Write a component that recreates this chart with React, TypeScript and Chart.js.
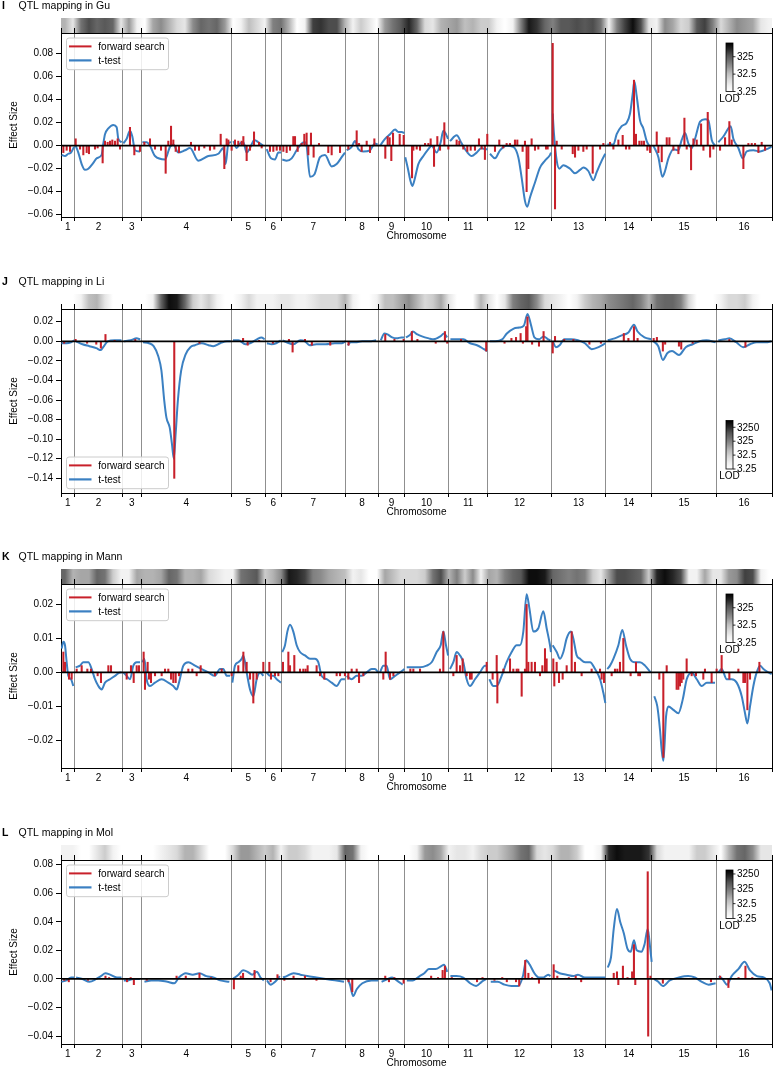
import React, { useEffect, useRef } from 'react';
import { Chart, registerables } from 'chart.js';

Chart.register(...registerables);

const FONT = '"Liberation Sans", Arial, Helvetica, sans-serif';
Chart.defaults.font.family = FONT;
Chart.defaults.color = '#000';

const RED = '#c8202a';
const BLUE = '#3b80c2';
const GRID_GRAY = '#8f8f8f';

// ---------- genome layout (kb) ----------
const CHR_NAMES = ['1', '2', '3', '4', '5', '6', '7', '8', '9', '10', '11', '12', '13', '14', '15', '16'];
const CHR_LEN_KB = [230, 813, 317, 1532, 577, 270, 1091, 563, 440, 746, 667, 1078, 924, 784, 1091, 948];

// ---------- LOD strip (normalised log-LOD darkness per cell) ----------
const STRIP_STEP_KB = 135.8;
const STRIP_I = [0.3,0.1,0.55,0.7,0.6,0.65,0.6,0.1,0.4,0.05,0,0.35,0.45,0.3,0.15,0.1,0.45,0.6,0.55,0.6,0.4,0,0.05,0.25,0.15,0.05,0.5,0.55,0.3,0,0.05,0.75,0.8,0.7,0.7,0.3,0.05,0.2,0.1,0,0.4,0.55,0.65,0.85,0.6,0.15,0.1,0.3,0.35,0.4,0.25,0.3,0.2,0.2,0.05,0,0.05,0.5,0.9,0.8,0.6,0.5,0.65,0.65,0.7,0.65,0.7,0.55,0.05,0.5,0.75,0.95,0.7,0.1,0.05,0.45,0.35,0.15,0.2,0.65,0.75,0.5,0.15,0.3,0.45,0.4,0.35,0.1,0.05];
const STRIP_J = [0,0,0.05,0.25,0.3,0.1,0,0,0,0,0,0.05,0.6,0.95,0.9,0.6,0.2,0.1,0.2,0.05,0,0,0.05,0.15,0.05,0.05,0.05,0.1,0.1,0.05,0.05,0.1,0.15,0.15,0.15,0.3,0.05,0,0,0.05,0.25,0.25,0.35,0.45,0.3,0.15,0.2,0.35,0.1,0,0,0,0.3,0.1,0,0.1,0.5,0.6,0.65,0.45,0.15,0.1,0.05,0,0.05,0.2,0.3,0.35,0.45,0.5,0.55,0.6,0.5,0.3,0.55,0.6,0.6,0.5,0.15,0,0,0,0.05,0.15,0.15,0.2,0.05,0,0];
const STRIP_K = [0.6,0.3,0.35,0.35,0.6,0.55,0.2,0.05,0.05,0.35,0.3,0.3,0.35,0.6,0.55,0.3,0.3,0.35,0.15,0.1,0.05,0.05,0.55,0.6,0.65,0.2,0.3,0.45,0.9,0.85,0.75,0.5,0.45,0.35,0.3,0.25,0.05,0.1,0,0,0.35,0.25,0.15,0.15,0.15,0.2,0.55,0.7,0.3,0.5,0.2,0.45,0.05,0.35,0.3,0.5,0.6,0.65,0.95,0.95,0.9,0.6,0.55,0.5,0.55,0.5,0.2,0.1,0.4,0.7,0.7,0.65,0.6,0.2,0.85,0.95,0.85,0.7,0.05,0.05,0.35,0.1,0.1,0.4,0.45,0.75,0.7,0.05,0];
const STRIP_L = [0.05,0.05,0,0,0.1,0.2,0.05,0,0,0,0,0,0.05,0.1,0.15,0.3,0.3,0.15,0,0,0,0.15,0.4,0.4,0.3,0.2,0.3,0.05,0.2,0.2,0.15,0.05,0.05,0.05,0.1,0.6,0.55,0.05,0,0,0,0,0,0,0.05,0.4,0.45,0.35,0.05,0.1,0.1,0.05,0.15,0.2,0.2,0.3,0.4,0.55,0.6,0.15,0.1,0.15,0.3,0.3,0.2,0,0,0.05,0.85,0.95,0.9,0.9,0.9,0.8,0.15,0.05,0.05,0.05,0.05,0.2,0.2,0.1,0,0.3,0.55,0.6,0.45,0.1,0.1];

// ---------- colour bar ----------
const CB_MIN = 3.25;
const CB_MAX_I = 2000;
const CB_MAX_J = 10000;
const CB_MAX_K = 2000;
const CB_MAX_L = 6000;
const CB_TICKS_3 = [3.25, 32.5, 325];
const CB_TICKS_4 = [3.25, 32.5, 325, 3250];
const CB_LABELS: Record<number, string> = { 3.25: '3.25', 32.5: '32.5', 325: '325', 3250: '3250' };

// ---------- y axes ----------
const Y_RANGE_I = [-0.062, 0.098];
const Y_RANGE_J = [-0.155, 0.033];
const Y_RANGE_K = [-0.0281, 0.026];
const Y_RANGE_L = [-0.0455, 0.0832];
const Y_TICKS_I = [-0.06, -0.04, -0.02, 0, 0.02, 0.04, 0.06, 0.08];
const Y_TICKS_J = [-0.14, -0.12, -0.1, -0.08, -0.06, -0.04, -0.02, 0, 0.02];
const Y_TICKS_K = [-0.02, -0.01, 0, 0.01, 0.02];
const Y_TICKS_L = [-0.04, -0.02, 0, 0.02, 0.04, 0.06, 0.08];

// ---------- Panel I (Gu) ----------
const T_I_X = [11,68,124,170,222, 249,294,351,407,464,549,605,690,719,747,804,888,945,973,1030, 1058,1115,1171,1211,1256,1341, 1381,1454,1511,1596,1766,1850,1907,1992,2105,2190,2331,2501,2671,2756,2795,2841,2886, 2926,2982,3039,3096,3152,3209,3282,3350,3435, 3492,3565,3633,3690,3735, 3757,3831,3916,4001,4086,4142,4170,4227,4301,4397,4482,4595,4680,4765,4821, 4850,4935,4991,5048,5133,5246,5330,5376, 5416,5501,5586,5671,5728,5784,5830, 5845,5890,5930,5965,6000,6067,6152,6237,6293,6378,6446,6491,6536,6570, 6604,6717,6802,6887,6972,7056,7141,7197,7242, 7283,7368,7453,7566,7679,7764,7821,7877,7917,7962,8047,8132,8217,8302,8320, 8348,8370,8416,8461,8529,8642,8727,8812,8868,8953,9038,9095,9180,9240, 9276,9378,9434,9519,9604,9661,9706,9734,9774,9830,9887,9944,10012, 10057,10142,10210,10255,10312,10397,10482,10538,10595,10651,10708,10765,10850,10935,10991,11048,11104, 11160,11245,11330,11370,11415,11500,11574,11642,11755,11868,11981,12063];
const T_I_Y = [-0.008,-0.009,-0.007,-0.006,-0.001, 0,-0.006,-0.016,-0.021,-0.02,-0.015,-0.011,-0.008,0.002,0.01,0.015,0.018,0.016,0.006,0.003, 0.002,0.006,0.013,0.008,-0.004,-0.005, 0.003,0.003,0,-0.009,-0.012,-0.001,0.001,-0.006,-0.004,-0.002,-0.013,-0.009,-0.007,-0.002,-0.016,0.002,0.003, 0.004,-0.002,0.002,0.003,-0.006,-0.002,0.005,0.003,0, -0.003,-0.011,-0.012,-0.006,-0.006, -0.012,-0.013,-0.011,-0.004,0.002,0.003,0,-0.027,-0.025,-0.01,-0.008,-0.018,-0.016,-0.01,-0.006, -0.004,-0.001,0.004,-0.003,-0.005,-0.004,0.002,0.001, 0,0.006,0.01,0.014,0.012,0.012,0.011, -0.01,-0.02,-0.03,-0.035,-0.03,-0.016,-0.009,-0.003,0,-0.006,0.003,0.013,0.01,0.006, 0.004,0.009,0.002,-0.005,-0.009,-0.006,-0.002,-0.003,-0.003, -0.007,-0.011,-0.004,0,-0.001,-0.01,-0.028,-0.048,-0.053,-0.045,-0.032,-0.019,-0.013,-0.008,-0.006, 0.028,0.01,-0.013,-0.02,-0.017,-0.02,-0.024,-0.021,-0.019,-0.022,-0.03,-0.023,-0.013,-0.007, 0.001,0.001,0.01,0.017,0.02,0.028,0.045,0.056,0.043,0.022,0.015,0.004,-0.002, 0,-0.01,-0.027,-0.022,-0.011,-0.003,-0.004,0.005,0.011,0.002,-0.002,0.006,0.021,0.023,0.022,0.005,0, 0.003,0.008,0.015,0.017,0.006,-0.002,-0.011,-0.005,-0.004,-0.005,-0.003,-0.001];
const FS_I_X = [40,96,153,249,323,379,436,475,577,622,707,747,792,832,871,917,962,1002,1171,1245,1341,1415,1511,1596,1698,1777,1822,1868,1907,1947,2003,2207,2275,2343,2433,2529,2603,2711,2773,2812,2841,2897,2954,3010,3067,3096,3152,3209,3277,3362,3407,3548,3605,3662,3718,3775,3831,3888,3944,3973,4018,4086,4131,4170,4199,4244,4289,4380,4538,4595,4737,4878,5020,5060,5105,5190,5246,5320,5506,5546,5580,5608,5637,5750,5818,5960,5982,6039,6095,6180,6237,6276,6333,6389,6435,6508,6576,6717,6762,6830,6898,6955,7028,7096,7141,7197,7237,7368,7441,7509,7566,7622,7707,7747,7837,7877,7905,7934,7990,8047,8104,8234,8262,8348,8387,8416,8501,8688,8727,8784,8868,8925,9027,9152,9208,9321,9378,9463,9536,9592,9649,9728,9762,9819,9858,9898,9955,10001,10114,10142,10199,10284,10329,10397,10482,10584,10623,10697,10737,10793,10867,10907,10980,11020,11076,11189,11274,11347,11387,11585,11670,11727,11783,11840,11896,11953];
const FS_I_Y = [-0.006,-0.004,-0.005,0.006,-0.003,-0.008,-0.006,-0.007,-0.003,-0.002,-0.015,0.004,0.003,0.004,0.005,0.004,0.006,-0.003,0.016,-0.008,-0.005,0.003,0.006,-0.003,-0.004,-0.024,0.004,0.017,0.005,-0.005,-0.006,0.003,-0.004,-0.004,-0.002,-0.004,-0.003,0.01,-0.02,0.006,0.005,-0.004,0.005,0.004,0.004,0.008,-0.013,-0.004,0.012,0.003,-0.002,-0.005,-0.005,-0.004,-0.004,-0.005,-0.006,-0.004,0.008,0.008,-0.005,0.002,0.01,0.011,-0.008,0.011,-0.01,0.002,-0.006,-0.008,-0.006,-0.003,0.013,0.002,-0.005,0.004,-0.006,0.006,-0.011,0.008,0.007,-0.013,0.011,0.01,0.009,-0.028,-0.004,-0.003,-0.004,0.002,0.002,0.006,-0.018,0.008,-0.004,0.02,-0.003,0.005,0.004,-0.003,-0.005,-0.004,-0.004,0.006,-0.003,-0.012,0.01,-0.005,0.005,-0.002,0.002,0.002,0.005,0.005,-0.005,0.004,-0.04,-0.02,0.006,-0.004,-0.003,-0.003,-0.003,0.089,-0.055,0.004,-0.003,-0.007,-0.01,-0.004,-0.005,-0.003,-0.024,-0.003,0.002,0.003,-0.003,0.005,0.009,-0.003,-0.003,0.057,0.01,0.004,0.004,0.004,-0.004,-0.006,0.012,-0.006,-0.014,0.007,0.007,-0.004,-0.007,0.024,-0.003,-0.021,0.006,0.005,0.019,-0.004,0.029,-0.01,-0.003,-0.004,0.007,0.021,0.005,-0.02,0.002,0.002,0.002,-0.006,0.003,-0.004];

// ---------- Panel J (Li) ----------
const T_J_X = [7,93,171,225, 256,365,482,599,677,716,794,910,1027, 1066,1183,1284,1345, 1393,1495,1573,1650,1705,1752,1790,1845,1884,1915,1946,1985,2040,2118,2196,2274,2390,2507,2585,2702,2819,2881, 2920,3013,3130,3208,3325,3403,3457, 3496,3574,3652,3730, 3761,3831,3948,4064,4142,4220,4337,4493,4649,4766,4828, 4867,4921,4999,5116,5233,5350, 5428,5490,5544,5622,5700,5778,5825, 5856,5934,5973,6051,6129,6245,6323,6440,6502,6557, 6611,6713,6830,6946,7063,7180,7234, 7281,7374,7491,7569,7686,7779,7858,7920,7982,8037,8115,8193,8271,8309, 8348,8403,8465,8543,8660,8777,8894,9010,9127,9244, 9283,9400,9517,9633,9727,9789,9906,10023, 10062,10140,10218,10296,10374,10491,10607,10724,10840,10957,11113, 11160,11269,11347,11464,11581,11698,11814,11970,12060];
const T_J_Y = [-0.002,-0.002,-0.001,0.001, 0,-0.003,-0.005,-0.007,-0.009,-0.006,0,0.001,0.001, 0,0.001,0.003,0.002, -0.001,-0.002,-0.005,-0.015,-0.03,-0.06,-0.078,-0.088,-0.105,-0.12,-0.095,-0.06,-0.03,-0.013,-0.006,-0.004,-0.002,-0.004,-0.005,-0.002,0,0, 0.001,0.001,-0.003,-0.002,0.002,0.004,0.002, -0.002,-0.003,-0.002,0.001, 0.001,-0.001,-0.003,0.001,0,-0.004,-0.003,-0.003,-0.002,-0.002,0, -0.004,-0.001,-0.001,0,0,0.001, 0.001,0.008,0.007,0.004,0.003,0.004,0.004, 0.004,0.007,0.01,0.007,0.005,0.003,0.002,0.005,0.008,0.004, 0.002,0.002,0.002,-0.002,-0.004,-0.008,-0.01, 0,0,0.002,0.008,0.013,0.014,0.016,0.028,0.016,0.004,0.002,0.005,0.002,0.001, 0,-0.006,-0.004,0.002,0.002,0.001,-0.002,-0.008,-0.006,-0.002, 0.001,0.003,0.006,0.009,0.017,0.01,0.004,0.002, 0,-0.005,-0.019,-0.012,-0.01,-0.014,-0.006,-0.003,0,0.001,-0.001, 0.001,0.002,0.003,-0.001,-0.006,-0.003,-0.001,-0.001,0];
const FS_J_X = [54,248,443,599,677,755,910,1261,1923,2351,3091,3169,3364,3597,3870,3932,4142,4259,4571,4882,5505,5661,5817,5957,6051,6362,6518,6557,6791,7219,7530,7647,7725,7803,7842,7897,7920,7998,8115,8193,8348,8387,8543,8699,8971,9166,9555,9633,9727,9789,10062,10117,10218,10257,10491,10530,10724,11347,11620];
const FS_J_Y = [-0.002,0.002,-0.002,-0.003,-0.007,0.007,0.001,0.002,-0.14,-0.002,0.003,-0.004,0.001,-0.002,0.002,-0.011,0.002,-0.004,-0.004,-0.004,0.007,0.002,0.002,0.01,0.002,-0.002,0.01,-0.002,0.002,-0.01,-0.002,0.003,0.004,0.008,-0.002,0.015,0.025,-0.003,-0.005,0.01,-0.012,0.005,0.002,0.002,-0.003,-0.002,0.008,0.003,0.015,0.003,0.003,0.004,-0.01,-0.003,-0.005,-0.008,-0.002,0.002,-0.006];

// ---------- Panel K (Mann) ----------
const T_K_X = [11,40,68,96,124,170,209, 249,323,379,464,521,577,634,690,747,832,917,1002,1030, 1058,1115,1171,1228,1285,1341, 1381,1415,1454,1511,1596,1709,1822,1907,1964,2003,2077,2162,2275,2388,2501,2614,2699,2756,2812,2869, 2909,2954,3010,3067,3096,3152,3209,3265,3322,3379,3435, 3492,3548,3605,3662,3735, 3757,3803,3843,3888,3944,4001,4058,4142,4227,4312,4368,4425,4510,4595,4680,4765,4821, 4850,4935,5020,5105,5190,5274,5330,5387, 5416,5472,5529,5586,5671,5756,5830, 5869,5954,6095,6208,6293,6378,6446,6491,6536,6572, 6604,6661,6717,6774,6830,6887,6944,7028,7113,7197,7242, 7272,7340,7397,7481,7566,7651,7736,7792,7849,7905,7951,8019,8104,8189,8245,8302,8318, 8348,8416,8472,8529,8585,8658,8698,8755,8812,8897,8982,9067,9152,9208,9242, 9276,9321,9378,9463,9530,9592,9661,9745,9830,9915,10012, 10073,10124,10170,10199,10227,10272,10312,10397,10482,10555,10623,10708,10793,10878,10963,11048,11104, 11160,11217,11302,11387,11472,11557,11613,11653,11698,11755,11811,11868,11925,12010,12065];
const T_K_Y = [0.007,0.009,0.008,0.003,-0.001,-0.002,-0.004, 0.0015,0.002,0.003,0.003,0.001,-0.002,-0.004,-0.005,-0.003,-0.002,-0.001,0,0, 0,-0.001,-0.002,0.002,0.003,0.003, 0.003,0.004,-0.002,-0.004,-0.003,-0.002,-0.003,-0.004,-0.005,-0.003,0.002,0.003,0.002,0.001,0,-0.001,0.001,0.001,-0.001,-0.001, -0.003,0.002,0.003,0.004,0.005,0,-0.005,-0.007,-0.002,0,-0.001, 0,-0.001,-0.001,-0.002,-0.003, 0.006,0.008,0.012,0.014,0.012,0.008,0.006,0.005,0.004,0.004,0.003,-0.001,-0.002,-0.003,-0.004,-0.002,-0.002, -0.001,-0.002,-0.001,-0.001,0,0.001,0.001,0, 0,0.002,0.002,-0.002,-0.001,0,0.001, 0.0015,0.0015,0.0015,0.002,0.003,0.006,0.008,0.012,0.008,0.005, 0.001,0.003,0.006,0.005,0.003,-0.002,-0.004,-0.002,0,0.002,0.002, -0.002,-0.004,-0.004,-0.001,0.003,0.006,0.008,0.008,0.012,0.023,0.019,0.012,0.013,0.018,0.013,0.008,0.006, 0.008,0.006,0.004,0.006,0.01,0.012,0.01,0.005,0.004,0.003,0.003,0.001,-0.002,-0.006,-0.009, 0.001,0.002,0.004,0.008,0.0125,0.008,0.004,0.003,0.003,0.002,0, -0.007,-0.01,-0.017,-0.023,-0.026,-0.013,-0.01,-0.011,-0.012,-0.008,-0.002,0,-0.002,-0.004,-0.003,-0.003,-0.003, 0,0.001,-0.002,-0.002,-0.003,-0.007,-0.012,-0.015,-0.01,-0.004,0,0.002,0.001,0,-0.0005];
const FS_K_X = [40,68,136,181,266,351,447,509,622,679,804,849,1115,1188,1234,1285,1324,1403,1426,1471,1494,1528,1596,1709,1766,1822,1868,1907,1947,2003,2162,2230,2303,2371,2614,2728,2897,3010,3096,3152,3209,3265,3322,3435,3537,3565,3633,3690,3769,3860,3888,3961,4058,4114,4153,4187,4340,4397,4470,4680,4737,4821,4878,4935,5020,5060,5133,5472,5512,5586,5643,5931,5982,6095,6434,6491,6661,6717,6774,6819,6887,6944,6972,7227,7328,7397,7408,7510,7623,7679,7736,7764,7821,7877,7905,7934,7990,8047,8132,8172,8217,8245,8358,8375,8415,8455,8517,8585,8670,8726,8839,9009,9151,9179,9219,9349,9405,9445,9490,9547,9671,9762,9801,9830,10158,10226,10283,10452,10481,10509,10537,10565,10622,10707,10780,10905,10933,11046,11131,11216,11347,11500,11585,11613,11653,11698,11857];
const FS_K_Y = [0.006,0.003,-0.002,-0.002,0.001,0.002,0.001,0.001,-0.001,-0.003,0.002,0.002,-0.002,0.002,-0.003,0.002,0.002,0.006,-0.005,0.003,-0.002,-0.003,-0.001,-0.001,0.001,0.001,-0.002,-0.003,-0.003,-0.001,0.001,0.001,-0.001,0.002,-0.001,0.001,-0.001,0.002,0.006,0.003,-0.002,-0.009,-0.002,0.003,0.003,-0.002,-0.001,-0.001,0.003,0.006,0.002,0.005,0.001,0.001,0.001,0.002,0.002,-0.001,-0.002,-0.001,-0.001,-0.001,-0.002,0.001,0.001,-0.003,-0.001,-0.002,0.006,-0.002,-0.001,0.001,0.001,0.001,0.001,0.012,-0.001,0.005,0.002,0.004,-0.001,-0.002,-0.002,0.003,-0.002,0.005,-0.009,0.001,0.004,0.001,0.001,0.001,-0.007,0.001,0.02,0.003,0.003,0.003,-0.001,0.002,0.007,0.004,0.004,-0.004,0.003,-0.003,-0.002,0.002,0.012,0.003,-0.001,0.001,0.001,-0.002,-0.003,-0.001,0.001,0.001,0.003,0.01,-0.001,0.003,-0.001,-0.001,-0.002,-0.025,0.002,-0.005,-0.005,-0.004,-0.003,-0.002,0.004,-0.001,-0.001,-0.002,0.001,-0.003,0.001,0.005,-0.002,0.001,-0.003,-0.003,-0.011,-0.002,0.003];

// ---------- Panel L (Mol) ----------
const T_L_X = [7,93,171,225, 256,365,482,599,677,755,833,950,1027, 1066,1144,1222,1339, 1417,1533,1650,1806,1923,2001,2118,2235,2351,2468,2585,2702,2858, 2920,3013,3091,3169,3247,3325,3387,3442, 3496,3558,3636,3714, 3769,3831,3948,4064,4181,4337,4493,4649,4805, 4867,4906,4960,5023,5116,5272,5389, 5443,5544,5622,5700,5801, 5871,5973,6090,6168,6245,6362,6456,6502,6557, 6611,6713,6830,6946,7047,7141,7219, 7296,7413,7530,7647,7764,7842,7897,7958,8037,8115,8193,8271,8309, 8372,8465,8582,8699,8777,8894,9010,9127,9244, 9283,9337,9384,9439,9493,9555,9618,9672,9727,9774,9852,9906,9961,10007,10028, 10069,10140,10218,10335,10491,10647,10763,10880,10996,11113, 11167,11230,11308,11386,11503,11604,11698,11814,11931,12032,12065];
const T_L_Y = [-0.002,-0.001,0.001,0.001, 0.001,0,-0.002,0,0.002,0.004,0.003,0.001,0.001, -0.001,-0.001,0,0, -0.002,-0.001,-0.001,-0.002,-0.003,0.001,0.004,0.003,0.004,0.002,0.001,-0.001,-0.002, 0,0.003,0.006,0.005,0.003,0.005,0.001,-0.001, -0.001,-0.004,-0.002,0.002, 0.001,0.002,0.004,0.003,0.002,0.001,0,-0.001,-0.002, 0,-0.004,-0.012,-0.007,-0.003,-0.001,-0.001, -0.002,0,0.001,-0.001,-0.004, -0.001,-0.001,0.002,0.004,0.007,0.007,0.009,0.01,0.005, 0.002,0.002,0.001,-0.003,-0.005,-0.002,0, -0.002,-0.002,-0.004,-0.005,-0.005,0.002,0.013,0.01,0.004,0.001,0.001,0.003,0.002, 0.006,0.004,0.003,0.002,0.003,0.001,0.001,0.001,0.001, 0.008,0.015,0.035,0.049,0.04,0.032,0.021,0.019,0.027,0.02,0.019,0.024,0.035,0.02,0.012, 0,-0.002,-0.005,-0.001,0.001,0.002,0.001,-0.002,-0.004,-0.003, 0.002,0,-0.004,0.002,0.007,0.012,0.006,0.002,0.001,-0.003,-0.008];
const FS_L_X = [54,132,459,755,817,1121,1183,1237,1456,1962,2118,2351,2546,2935,3052,3091,3286,3558,3675,3792,3948,4142,4337,4882,4945,5505,5568,5661,5817,6284,6401,6479,6518,6635,7063,7156,7359,7491,7569,7725,7779,7881,7935,7998,8115,8364,8426,8621,8738,8831,9384,9439,9462,9540,9618,9696,9727,9750,9961,9969,10007,10218,11035,11191,11331,11503,11620,11736];
const FS_L_Y = [-0.001,-0.002,-0.001,0.002,0.001,-0.002,0.001,-0.004,-0.001,0.002,0.002,0.004,0.001,-0.007,0.002,0.004,0.006,-0.002,0.003,-0.001,0.002,0.002,-0.001,-0.002,-0.009,0.002,-0.002,0.001,-0.003,0.002,0.001,0.006,0.009,0.001,-0.002,0.001,-0.001,0.001,-0.002,-0.002,-0.005,0.013,0.004,0.001,-0.003,0.01,0.002,0.001,0.002,-0.002,0.004,0.005,-0.004,0.009,0.001,0.005,0.024,-0.004,0.075,-0.04,0.002,-0.003,-0.002,0.002,-0.006,0.001,0.009,0.001];

// ---------- derived genome helpers ----------
const CHR_START: number[] = [];
let acc = 0;
for (const l of CHR_LEN_KB) { CHR_START.push(acc); acc += l; }
const GENOME = acc;
const BOUNDS = [...CHR_START, GENOME];
const MIDS = CHR_START.map((s, i) => s + CHR_LEN_KB[i] / 2);
const BOUND_SET = new Set(BOUNDS);
const X_TICKS = [...BOUNDS, ...MIDS].sort((a, b) => a - b);

function chrOf(kb: number) {
  let i = 0;
  while (i < CHR_START.length - 1 && kb >= CHR_START[i + 1]) i++;
  return i;
}
function lineData(xs: number[], ys: number[]) {
  const out: { x: number; y: number | null }[] = [];
  for (let i = 0; i < xs.length; i++) {
    if (i > 0 && chrOf(xs[i]) !== chrOf(xs[i - 1])) out.push({ x: (xs[i] + xs[i - 1]) / 2, y: null });
    out.push({ x: xs[i], y: ys[i] });
  }
  return out;
}
function fmtY(v: number) {
  const s = (Math.abs(v) < 1e-9 ? 0 : v).toFixed(2);
  return s.replace('-', '\u2212');
}

const GREYS = ['#ffffff', '#f0f0f0', '#d9d9d9', '#bdbdbd', '#969696', '#737373', '#525252', '#252525', '#000000'];

const PANELS = [
  { letter: 'I', name: 'QTL mapping in Gu', yr: Y_RANGE_I, yt: Y_TICKS_I, tX: T_I_X, tY: T_I_Y, fX: FS_I_X, fY: FS_I_Y, strip: STRIP_I, cbMax: CB_MAX_I, cbTicks: CB_TICKS_3, bottom: false },
  { letter: 'J', name: 'QTL mapping in Li', yr: Y_RANGE_J, yt: Y_TICKS_J, tX: T_J_X, tY: T_J_Y, fX: FS_J_X, fY: FS_J_Y, strip: STRIP_J, cbMax: CB_MAX_J, cbTicks: CB_TICKS_4, bottom: true },
  { letter: 'K', name: 'QTL mapping in Mann', yr: Y_RANGE_K, yt: Y_TICKS_K, tX: T_K_X, tY: T_K_Y, fX: FS_K_X, fY: FS_K_Y, strip: STRIP_K, cbMax: CB_MAX_K, cbTicks: CB_TICKS_3, bottom: false },
  { letter: 'L', name: 'QTL mapping in Mol', yr: Y_RANGE_L, yt: Y_TICKS_L, tX: T_L_X, tY: T_L_Y, fX: FS_L_X, fY: FS_L_Y, strip: STRIP_L, cbMax: CB_MAX_L, cbTicks: CB_TICKS_4, bottom: false },
];
const PANEL_TOPS = [0, 276, 551, 827];
const W = 774;
const H = 276;

function PanelChart({ p, top }: { p: any; top: number }) {
  const ref = useRef<HTMLCanvasElement>(null);
  useEffect(() => {
    const canvas = ref.current as HTMLCanvasElement;
    const deco = {
      id: 'deco',
      beforeDraw(chart: any) {
        const { ctx, chartArea } = chart;
        const xs = chart.scales.x;
        ctx.save();
        ctx.fillStyle = '#000';
        ctx.textBaseline = 'middle';
        ctx.textAlign = 'left';
        ctx.font = `bold 10.5px ${FONT}`;
        ctx.fillText(p.letter, 2, 6.5);
        ctx.font = `10.5px ${FONT}`;
        ctx.fillText(p.name, 18.5, 6.5);
        // LOD strip
        const x0 = chartArea.left;
        const x1 = chartArea.right;
        const grad = ctx.createLinearGradient(x0, 0, x1, 0);
        p.strip.forEach((d: number, i: number) => {
          const px = xs.getPixelForValue((i + 0.5) * STRIP_STEP_KB);
          const t = Math.min(1, Math.max(0, (px - x0) / (x1 - x0)));
          const g = Math.round(255 * (1 - d));
          grad.addColorStop(t, `rgb(${g},${g},${g})`);
        });
        ctx.fillStyle = grad;
        ctx.fillRect(x0, chartArea.top - 15, x1 - x0, 15);
        ctx.restore();
      },
      afterDraw(chart: any) {
        const { ctx, chartArea } = chart;
        ctx.save();
        // legend
        const lx = 66.5, lw = 102, lh = 31.7;
        const ly = p.bottom ? chartArea.bottom - 4.3 - lh : chartArea.top + 5;
        ctx.beginPath();
        if (ctx.roundRect) ctx.roundRect(lx, ly, lw, lh, 2.5); else ctx.rect(lx, ly, lw, lh);
        ctx.fillStyle = 'rgba(255,255,255,0.85)';
        ctx.fill();
        ctx.strokeStyle = '#cccccc';
        ctx.lineWidth = 1;
        ctx.stroke();
        const entries: [string, string, number][] = [[RED, 'forward search', 2], [BLUE, 't-test', 2.2]];
        entries.forEach(([c, label, w], i) => {
          const yy = ly + 8.4 + i * 14;
          ctx.strokeStyle = c;
          ctx.lineWidth = w;
          ctx.beginPath();
          ctx.moveTo(lx + 2.5, yy);
          ctx.lineTo(lx + 25, yy);
          ctx.stroke();
          ctx.fillStyle = '#000';
          ctx.font = `10px ${FONT}`;
          ctx.textBaseline = 'middle';
          ctx.textAlign = 'left';
          ctx.fillText(label, lx + 31.8, yy + 0.5);
        });
        // colour bar
        const cbx = 726, cbw = 7, cbh = 48.5;
        const cbTop = p.bottom ? chartArea.bottom - 24 - cbh : chartArea.top + 10;
        const cbBot = cbTop + cbh;
        const g = ctx.createLinearGradient(0, cbBot, 0, cbTop);
        GREYS.forEach((c, i) => g.addColorStop(i / (GREYS.length - 1), c));
        ctx.fillStyle = g;
        ctx.fillRect(cbx, cbTop, cbw, cbh);
        ctx.strokeStyle = '#000';
        ctx.lineWidth = 0.8;
        ctx.strokeRect(cbx, cbTop, cbw, cbh);
        const lmin = Math.log10(CB_MIN), lmax = Math.log10(p.cbMax);
        ctx.font = `10px ${FONT}`;
        ctx.fillStyle = '#000';
        ctx.textBaseline = 'middle';
        ctx.textAlign = 'left';
        p.cbTicks.forEach((v: number) => {
          const y = cbBot - ((Math.log10(v) - lmin) / (lmax - lmin)) * cbh;
          ctx.beginPath();
          ctx.moveTo(cbx + cbw, y);
          ctx.lineTo(cbx + cbw + 2.5, y);
          ctx.stroke();
          ctx.fillText(CB_LABELS[v], cbx + cbw + 4, y + 0.5);
        });
        ctx.textAlign = 'center';
        ctx.fillText('LOD', cbx + cbw / 2, cbBot + 7.5);
        ctx.restore();
      },
    };

    const chart = new Chart(canvas, {
      type: 'bar',
      data: {
        datasets: [
          {
            type: 'line', label: 't-test', data: lineData(p.tX, p.tY) as any,
            borderColor: BLUE, borderWidth: 2, pointRadius: 0, cubicInterpolationMode: 'monotone',
            spanGaps: false, order: 2, xAxisID: 'x', yAxisID: 'y',
          } as any,
          {
            type: 'bar', label: 'forward search', data: p.fX.map((x: number, i: number) => ({ x, y: p.fY[i] })),
            backgroundColor: RED, barThickness: 1.4, borderWidth: 0, order: 1, xAxisID: 'x', yAxisID: 'y',
          } as any,
          {
            type: 'line', label: 'zero', data: [{ x: 0, y: 0 }, { x: GENOME, y: 0 }],
            borderColor: '#000', borderWidth: 1.8, pointRadius: 0, order: 0, xAxisID: 'x', yAxisID: 'y',
          } as any,
        ],
      },
      options: {
        responsive: false,
        animation: false,
        events: [],
        layout: { padding: { top: 28, right: 2, bottom: 34, left: 0 } },
        plugins: { legend: { display: false }, tooltip: { enabled: false } },
        scales: {
          x: {
            type: 'linear', position: 'bottom', min: 0, max: GENOME, offset: false,
            afterBuildTicks: (s: any) => { s.ticks = X_TICKS.map((v) => ({ value: v })); },
            afterFit: (s: any) => { s.height = 25; },
            ticks: {
              autoSkip: false, maxRotation: 0, minRotation: 0, padding: 0, color: '#000',
              font: { size: 10, family: FONT },
              callback: (v: any) => { const i = MIDS.indexOf(v); return i >= 0 ? CHR_NAMES[i] : ''; },
            },
            grid: {
              offset: false, lineWidth: 1, tickLength: 4,
              color: (c: any) => (BOUND_SET.has(c.tick?.value) ? GRID_GRAY : 'rgba(0,0,0,0)'),
              tickColor: (c: any) => (BOUND_SET.has(c.tick?.value) ? '#000' : 'rgba(0,0,0,0)'),
            },
            border: { display: true, color: '#000', width: 1 },
            title: { display: true, text: 'Chromosome', color: '#000', font: { size: 10, family: FONT }, padding: { top: 0, bottom: 0 } },
          },
          xTop: {
            type: 'linear', position: 'top', min: 0, max: GENOME, offset: false,
            afterBuildTicks: (s: any) => { s.ticks = BOUNDS.map((v) => ({ value: v })); },
            afterFit: (s: any) => { s.height = 5; },
            ticks: { display: false },
            grid: { offset: false, drawOnChartArea: false, tickLength: 5, color: '#000', lineWidth: 1 },
            border: { display: true, color: '#000', width: 1 },
          },
          y: {
            type: 'linear', position: 'left', min: p.yr[0], max: p.yr[1],
            afterBuildTicks: (s: any) => { s.ticks = p.yt.map((v: number) => ({ value: v })); },
            afterFit: (s: any) => { s.width = 61; },
            ticks: { padding: 3, color: '#000', font: { size: 10, family: FONT }, callback: (v: any) => fmtY(Number(v)) },
            grid: { drawOnChartArea: false, tickLength: 5, color: '#000', lineWidth: 1 },
            border: { display: true, color: '#000', width: 1 },
            title: { display: true, text: 'Effect Size', color: '#000', font: { size: 10, family: FONT }, padding: { top: 8, bottom: 0 } },
          },
          yR: {
            type: 'linear', position: 'right', min: 0, max: 1,
            afterFit: (s: any) => { s.width = 0; },
            ticks: { display: false },
            grid: { display: false },
            border: { display: true, color: '#000', width: 1 },
          },
        },
      } as any,
      plugins: [deco],
    });
    return () => chart.destroy();
  }, [p]);
  return (
    <canvas
      ref={ref}
      width={W}
      height={H}
      style={{ position: 'absolute', left: 0, top, width: W, height: H, display: 'block' }}
    />
  );
}

export default function App() {
  return (
    <div style={{ position: 'absolute', left: 0, top: 0, width: W, height: 1066, overflow: 'hidden', background: '#fff' }}>
      {PANELS.map((p, i) => (
        <PanelChart key={p.letter} p={p} top={PANEL_TOPS[i]} />
      ))}
    </div>
  );
}
